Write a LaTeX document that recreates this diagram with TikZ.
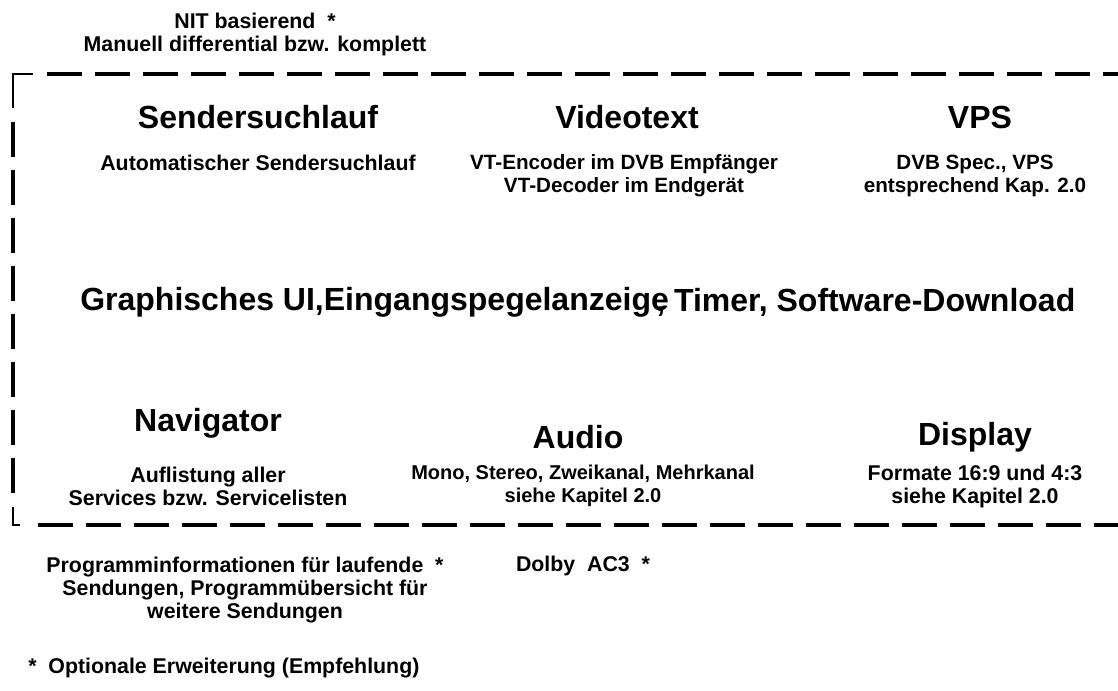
\documentclass[tikz,border=0pt]{standalone}
\usepackage{fontspec}
\setmainfont{Liberation Sans}
\tikzset{
  head/.style={font=\fontsize{24}{28}\selectfont\bfseries, inner sep=0pt},
  txt/.style={font=\fontsize{16}{17.25}\selectfont\bfseries, align=center, inner sep=0pt},
  frame/.style={line width=3pt, dash pattern=on 26.25pt off 9.75pt},
  corner/.style={line width=1.5pt},
}
\begin{document}
\begin{tikzpicture}[x=0.75pt,y=-0.75pt]
\useasboundingbox (0,0) rectangle (1118,690);
% dashed frame
\draw[corner] (13,108) |- (33,74);
\draw[corner] (13,507) |- (20,525);
\draw[frame] (47,74) -- (1118,74);
\draw[frame] (13,122) -- (13,495);
\draw[frame] (38,525) -- (1118,525);
% above the frame
\node[txt] (nit) at (255,34) {NIT basierend\ \ *\\Manuell differential bzw. komplett};
% first row
\node[head] (sender) at (258,117) {Sendersuchlauf};
\node[txt] (sendertxt) at (258,163) {Automatischer Sendersuchlauf};
\node[head] (video) at (627,117) {Videotext};
\node[txt,font=\fontsize{15.5}{17.25}\selectfont\bfseries] (videotxt) at (624,176) {VT-Encoder im DVB Empfänger\\VT-Decoder im Endgerät};
\node[head] (vps) at (980,117) {VPS};
\node[txt,font=\fontsize{15.5}{17.25}\selectfont\bfseries] (vpstxt) at (975,176) {DVB Spec., VPS\\entsprechend Kap. 2.0};
% middle row
\node[head,anchor=west] (gui) at (80,302) {Graphisches UI,Eingangspegelanzeige};
\node[head,anchor=west] (timer) at (656,302) {, Timer, Software-Download};
% last row
\node[head] (navi) at (208,423) {Navigator};
\node[txt] (navitxt) at (208,486) {Auflistung aller\\Services bzw. Servicelisten};
\node[head] (audio) at (578,437) {Audio};
\node[txt,font=\fontsize{15}{17.25}\selectfont\bfseries] (audiotxt) at (583,486) {Mono, Stereo, Zweikanal, Mehrkanal\\siehe Kapitel 2.0};
\node[head] (disp) at (975,437) {Display};
\node[txt] (disptxt) at (975,486) {Formate 16:9 und 4:3\\siehe Kapitel 2.0};
% below the frame
\node[txt] (epg) at (245,590) {Programminformationen für laufende\ \ *\\Sendungen, Programmübersicht für\\weitere Sendungen};
\node[txt] (dolby) at (583,566) {Dolby\ \ AC3\ \ *};
\node[txt,anchor=west] (legend) at (28,668) {*\ \ Optionale Erweiterung (Empfehlung)};
\end{tikzpicture}
\end{document}
